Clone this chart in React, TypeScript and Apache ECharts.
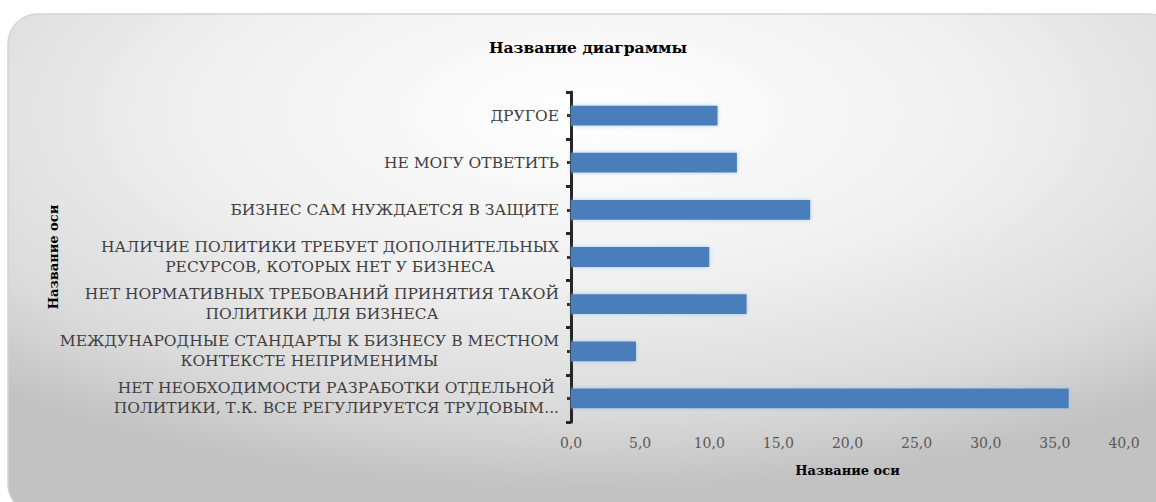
import React, { useEffect, useRef } from "react";
import * as echarts from "echarts";

const categories: string[] = [
  "НЕТ НЕОБХОДИМОСТИ РАЗРАБОТКИ ОТДЕЛЬНОЙ\nПОЛИТИКИ, Т.К. ВСЕ РЕГУЛИРУЕТСЯ ТРУДОВЫМ...",
  "МЕЖДУНАРОДНЫЕ СТАНДАРТЫ К БИЗНЕСУ В МЕСТНОМ\nКОНТЕКСТЕ НЕПРИМЕНИМЫ",
  "НЕТ НОРМАТИВНЫХ ТРЕБОВАНИЙ ПРИНЯТИЯ ТАКОЙ\nПОЛИТИКИ ДЛЯ БИЗНЕСА",
  "НАЛИЧИЕ ПОЛИТИКИ ТРЕБУЕТ ДОПОЛНИТЕЛЬНЫХ\nРЕСУРСОВ, КОТОРЫХ НЕТ У БИЗНЕСА",
  "БИЗНЕС САМ НУЖДАЕТСЯ В ЗАЩИТЕ",
  "НЕ МОГУ ОТВЕТИТЬ",
  "ДРУГОЕ",
];
const values: number[] = [36.0, 4.7, 12.7, 10.0, 17.3, 12.0, 10.6];
const chartTitle = "Название диаграммы";
const xAxisName = "Название оси";
const yAxisName = "Название оси";
const xMin = 0;
const xMax = 40;
const xStep = 5;

const SERIF = "'DejaVu Serif', 'Liberation Serif', serif";

export default function App() {
  const ref = useRef<HTMLDivElement>(null);
  useEffect(() => {
    if (!ref.current) return;
    const chart = echarts.init(ref.current, null, { renderer: "svg" });
    const gridPos = { left: 571, right: 32, top: 92, bottom: 80 };
    chart.setOption({
      animation: false,
      backgroundColor: "#ffffff",
      graphic: [
        {
          type: "rect",
          z: -10,
          silent: true,
          shape: { x: 8, y: 14, width: 1170, height: 500, r: 30 },
          style: {
            fill: {
              type: "radial",
              x: 0.5,
              y: 0.2,
              r: 0.75,
              colorStops: [
                { offset: 0, color: "#ffffff" },
                { offset: 0.45, color: "#f0f0f0" },
                { offset: 0.8, color: "#dadada" },
                { offset: 1, color: "#c2c2c2" },
              ],
            },
            stroke: "#d4d4d4",
            lineWidth: 1.5,
          },
        },
      ],
      title: {
        text: chartTitle,
        left: 583,
        textAlign: "center",
        top: 34,
        textStyle: {
          fontFamily: SERIF,
          fontWeight: "bold",
          fontSize: 15.5,
          color: "#000000",
        },
      },
      grid: [
        { ...gridPos, containLabel: false },
        { ...gridPos, containLabel: false },
      ],
      xAxis: [
        {
          type: "value",
          gridIndex: 0,
          min: xMin,
          max: xMax,
          interval: xStep,
          name: xAxisName,
          nameLocation: "middle",
          nameGap: 42,
          nameTextStyle: {
            fontFamily: SERIF,
            fontWeight: "bold",
            fontSize: 13,
            color: "#000000",
          },
          axisLine: { show: false },
          axisTick: { show: false },
          splitLine: { show: false },
          axisLabel: {
            margin: 14,
            fontFamily: SERIF,
            fontSize: 14,
            color: "#595959",
            formatter: (v: number) => v.toFixed(1).replace(".", ","),
          },
        },
        {
          type: "value",
          gridIndex: 1,
          min: xMin,
          max: xMax,
          show: false,
        },
      ],
      yAxis: [
        {
          type: "category",
          gridIndex: 0,
          data: categories,
          name: yAxisName,
          nameLocation: "middle",
          nameGap: 511,
          nameRotate: 90,
          nameMoveOverlap: false,
          nameTextStyle: {
            fontFamily: SERIF,
            fontWeight: "bold",
            fontSize: 13,
            color: "#000000",
          },
          axisLine: { show: true, lineStyle: { color: "#262626", width: 3 } },
          axisTick: {
            show: true,
            alignWithLabel: false,
            interval: 0,
            length: 5,
            lineStyle: { color: "#262626", width: 3 },
          },
          splitLine: { show: false },
          axisLabel: {
            interval: 0,
            margin: 12,
            formatter: (v: string) =>
              v
                .split("\n")
                .map((l) => "{c|" + l + "}")
                .join("\n"),
            rich: {
              c: {
                align: "center",
                fontFamily: SERIF,
                fontSize: 15.5,
                lineHeight: 20,
                color: "#404040",
              },
            },
          },
        },
        {
          type: "category",
          gridIndex: 1,
          data: categories,
          axisLine: { show: false },
          axisLabel: { show: false },
          splitLine: { show: false },
          axisTick: {
            show: true,
            alignWithLabel: true,
            interval: 0,
            length: 4,
            lineStyle: { color: "#262626", width: 3 },
          },
        },
      ],
      series: [
        {
          type: "bar",
          xAxisIndex: 0,
          yAxisIndex: 0,
          data: values,
          barCategoryGap: "58%",
          itemStyle: {
            color: "#4a7ebb",
            shadowBlur: 4,
            shadowColor: "rgba(140,185,235,0.7)",
          },
        },
      ],
    });
    return () => chart.dispose();
  }, []);
  return (
    <div
      ref={ref}
      style={{ position: "fixed", left: 0, top: 0, width: 1156, height: 502 }}
    />
  );
}
